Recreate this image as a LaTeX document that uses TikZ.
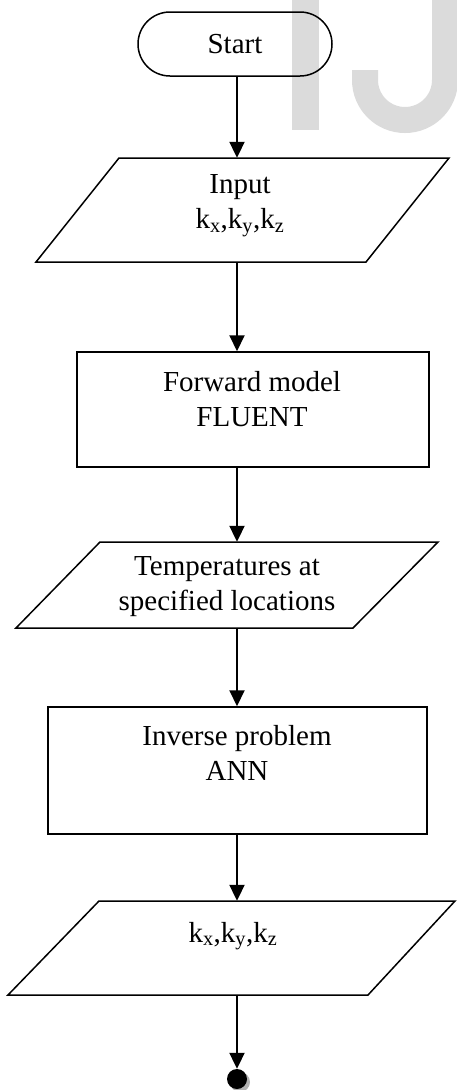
\documentclass[tikz,border=0pt]{standalone}
\usepackage{fontspec}
\setmainfont{Liberation Serif}
\usetikzlibrary{arrows.meta,shapes.misc}
\begin{document}
\begin{tikzpicture}[x=1pt,y=-1pt]
\tikzset{
  outl/.style={draw=black, line width=1.5pt},
  txt/.style={font=\fontsize{29}{35}\selectfont, align=center, inner sep=0pt},
  flow/.style={line width=2pt, -{Triangle[length=16pt,width=15pt]}},
  holder/.style={inner sep=0pt, minimum width=#1},
  wm/.style={black!14}
}
\useasboundingbox (0,0) rectangle (457,1090);
% watermark
\fill[wm] (292,-2) rectangle (319,130);
\draw[wm, line width=26pt] (365,70) -- (365,80) arc[start angle=180, end angle=0, radius=40] -- (445,-15);
% spine
\coordinate (spine) at (237,0);
% start
\node[outl, rounded corners=32pt, minimum width=194pt, minimum height=64pt, inner sep=0pt,
      font=\fontsize{29}{35}\selectfont] (start) at (235,44) {Start};
% input
\draw[outl] (119,158) -- (449,158) -- (366,262) -- (36,262) -- cycle;
\node[holder=330pt, minimum height=104pt] (inp) at (242.5,210) {};
\node[txt] (inptxt) at (240,206) {Input\\k\textsubscript{x},k\textsubscript{y},k\textsubscript{z}};
% forward
\node[outl, minimum width=352pt, minimum height=115pt, inner sep=0pt] (fwd) at (253,409.5) {};
\node[txt] (fwdtxt) at (252,399) {Forward model\\FLUENT};
% temperatures
\draw[outl] (100,542) -- (438,542) -- (353,628) -- (16,628) -- cycle;
\node[holder=337pt, minimum height=86pt] (temp) at (226.75,585) {};
\node[txt] (temptxt) at (227,587) {Temperatures at\\specified locations};
% ANN
\node[outl, minimum width=379pt, minimum height=127pt, inner sep=0pt] (ann) at (237.5,770.5) {};
\node[txt] (anntxt) at (237,753) {Inverse problem\\ANN};
% output
\draw[outl] (99,901) -- (455,901) -- (368,995) -- (8,995) -- cycle;
\node[holder=357pt, minimum height=94pt] (out) at (232.75,948) {};
\node[txt, anchor=base] (outtxt) at (233,942) {k\textsubscript{x},k\textsubscript{y},k\textsubscript{z}};
% end
\fill[black!30] (240,1082) circle (10pt);
\node[circle, fill=black, minimum size=20pt, inner sep=0pt] (end) at (237,1079) {};
% connectors
\draw[flow] (start.south -| spine) -- (inp.north -| spine);
\draw[flow] (inp.south -| spine) -- (fwd.north -| spine);
\draw[flow] (fwd.south -| spine) -- (temp.north -| spine);
\draw[flow] (temp.south -| spine) -- (ann.north -| spine);
\draw[flow] (ann.south -| spine) -- (out.north -| spine);
\draw[flow] (out.south -| spine) -- (end.north);
\end{tikzpicture}
\end{document}
